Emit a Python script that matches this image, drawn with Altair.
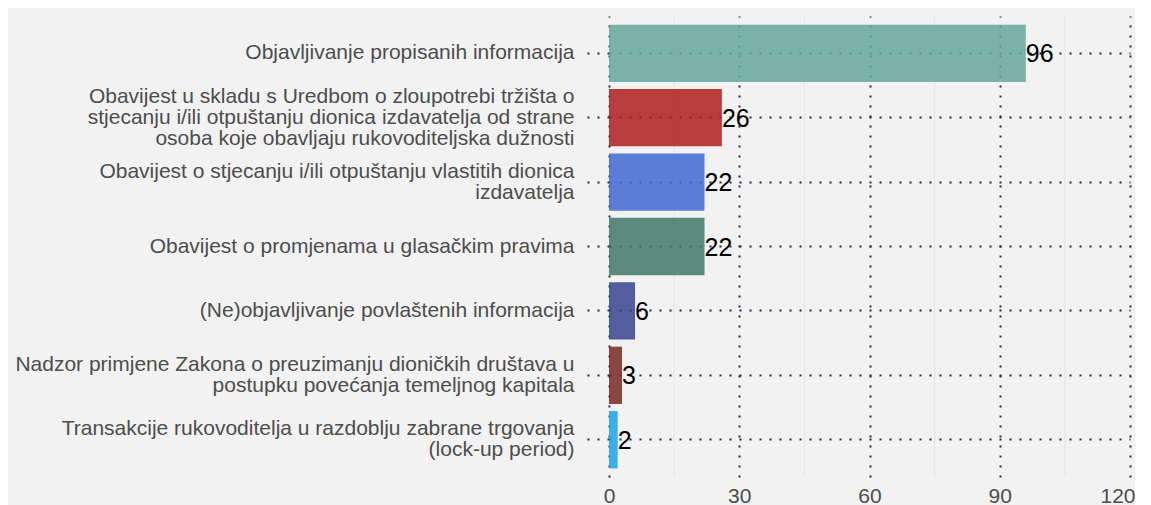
import altair as alt
import pandas as pd

categories = [
    "Objavljivanje propisanih informacija",
    "Obavijest u skladu s Uredbom o zloupotrebi tržišta o\nstjecanju i/ili otpuštanju dionica izdavatelja od strane\nosoba koje obavljaju rukovoditeljska dužnosti",
    "Obavijest o stjecanju i/ili otpuštanju vlastitih dionica\nizdavatelja",
    "Obavijest o promjenama u glasačkim pravima",
    "(Ne)objavljivanje povlaštenih informacija",
    "Nadzor primjene Zakona o preuzimanju dioničkih društava u\npostupku povećanja temeljnog kapitala",
    "Transakcije rukovoditelja u razdoblju zabrane trgovanja\n(lock-up period)",
]
values = [96, 26, 22, 22, 6, 3, 2]
colors = ["#65a79c", "#ae1d1d", "#3f69d3", "#427867", "#38448f", "#792727", "#1ba4eb"]
major_ticks = [0, 30, 60, 90, 120]
minor_ticks = [15, 45, 75, 105]

df = pd.DataFrame({"cat": categories, "value": values, "color": colors,
                   "label": [str(v) for v in values]})
minor_df = pd.DataFrame({"m": minor_ticks})

FONT = "Liberation Sans"
GRID = "#1f2b3a"
LH = 21

xscale = alt.Scale(domain=[0, 120], nice=False, zero=True)
yscale = alt.Scale(domain=categories, paddingInner=0.11, paddingOuter=0.134)

minor = alt.Chart(minor_df).mark_rule(color="#e6e6e6", strokeWidth=1.2).encode(
    x=alt.X("m:Q", scale=xscale)
)

bars = alt.Chart(df).mark_bar(opacity=0.85).encode(
    x=alt.X("value:Q", scale=xscale, title=None,
            axis=alt.Axis(values=major_ticks, grid=True, gridDash=[2, 8], gridColor=GRID,
                          gridWidth=2, gridOpacity=1, ticks=False, domain=False,
                          labelFont=FONT, labelFontSize=21, labelColor="#4d4d4d",
                          labelPadding=8, labelFlush=False,
                          labelAlign={"expr": "datum.value == 120 ? 'right' : 'center'"},
                          labelOffset={"expr": "datum.value == 120 ? 5 : 0"})),
    y=alt.Y("cat:N", scale=yscale, sort=categories, title=None,
            axis=alt.Axis(grid=True, bandPosition=0.5, gridDash=[2, 8], gridColor=GRID,
                          gridWidth=2, gridOpacity=1, ticks=True, tickSize=24,
                          tickDash=[2, 8], tickColor=GRID, tickWidth=2, tickBand="center",
                          domain=False, labelFont=FONT, labelFontSize=21,
                          labelColor="#4d4d4d", labelPadding=11, labelLimit=700,
                          labelLineHeight=LH,
                          labelOffset={"expr": f"-(length(split(datum.label, '\\n')) - 1) * {LH} / 2"},
                          labelExpr="split(datum.label, '\\n')",
                          minExtent=601, maxExtent=601)),
    color=alt.Color("color:N", scale=None, legend=None),
)

text = alt.Chart(df).mark_text(align="left", baseline="middle", dx=0, dy=1,
                               font=FONT, fontSize=25, color="black").encode(
    x=alt.X("value:Q", scale=xscale),
    y=alt.Y("cat:N", scale=yscale, sort=categories),
    text="label:N",
)

chart = alt.layer(minor, bars, text).properties(
    width=521, height=461,
    background="#f2f2f2",
    padding={"left": 0, "top": 7, "right": 0, "bottom": 0},
).configure_view(stroke=None, fill="#f2f2f2")

chart.save("out.html", embed_options={"renderer": "svg", "actions": False})
